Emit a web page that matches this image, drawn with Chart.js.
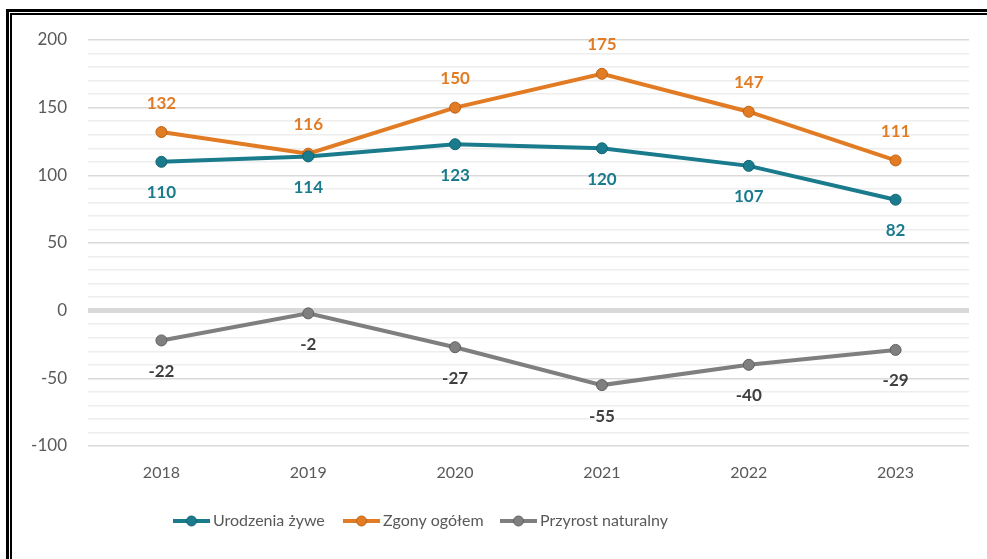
<!DOCTYPE html>
<html>
<head>
<meta charset="utf-8">
<script src="https://cdn.jsdelivr.net/npm/chart.js@4"></script>
<style>
  html, body { margin: 0; padding: 0; background: #fff; }
  #wrap { position: relative; width: 987px; height: 559px; overflow: hidden; }
  #chart { position: absolute; left: 0; top: 0; }
  .frame { position: absolute; background: #000; }
</style>
</head>
<body>
<div id="wrap">
  <canvas id="chart" width="987" height="559"></canvas>
  <!-- double frame on the left and top -->
  <div class="frame" style="left:6px; top:9px; width:3px; height:560px;"></div>
  <div class="frame" style="left:10px; top:13px; width:2px; height:560px;"></div>
  <div class="frame" style="left:6px; top:9px; width:990px; height:3px;"></div>
  <div class="frame" style="left:10px; top:13px; width:990px; height:2px;"></div>
</div>
<script>
// dane
const years = ['2018', '2019', '2020', '2021', '2022', '2023'];
const urodzenia = [110, 114, 123, 120, 107, 82];
const zgony = [132, 116, 150, 175, 147, 111];
const przyrost = [-22, -2, -27, -55, -40, -29];
const seriesNames = ['Urodzenia żywe', 'Zgony ogółem', 'Przyrost naturalny'];
const yTicks = [-100, -50, 0, 50, 100, 150, 200];

const colors = ['#1a7b8d', '#e27c24', '#7f7f7f'];
const borders = ['#136473', '#bf6214', '#606060'];
const labelColors = ['#1a7b8d', '#e27c24', '#3f3f3f'];
const labelOffsets = [31, -29, 31];

const FONT = 'Lato, "Open Sans", sans-serif';

// legenda rysowana recznie (pozycje jak w oryginale)
const legendX = [173, 343, 500];
const legendY = 521;

const dataLabels = {
    id: 'dataLabels',
    afterDatasetsDraw(chart) {
        const ctx = chart.ctx;
        ctx.save();
        ctx.font = 'bold 17px ' + FONT;
        ctx.textAlign = 'center';
        ctx.textBaseline = 'middle';
        chart.data.datasets.forEach((ds, i) => {
            const meta = chart.getDatasetMeta(i);
            ctx.fillStyle = labelColors[i];
            meta.data.forEach((pt, j) => {
                ctx.fillText(String(ds.data[j]), pt.x, pt.y + labelOffsets[i]);
            });
        });
        ctx.restore();
    }
};

const bottomLegend = {
    id: 'bottomLegend',
    afterDraw(chart) {
        const ctx = chart.ctx;
        ctx.save();
        chart.data.datasets.forEach((ds, i) => {
            const x = legendX[i];
            ctx.strokeStyle = colors[i];
            ctx.lineWidth = 4;
            ctx.beginPath();
            ctx.moveTo(x, legendY);
            ctx.lineTo(x + 37, legendY);
            ctx.stroke();
            ctx.beginPath();
            ctx.arc(x + 18.5, legendY, 5, 0, Math.PI * 2);
            ctx.fillStyle = colors[i];
            ctx.fill();
            ctx.lineWidth = 1;
            ctx.strokeStyle = borders[i];
            ctx.stroke();
            ctx.fillStyle = '#595959';
            ctx.font = '16px ' + FONT;
            ctx.textAlign = 'left';
            ctx.textBaseline = 'middle';
            ctx.fillText(ds.label, x + 40, legendY);
        });
        ctx.restore();
    }
};

function makeDataset(i, values) {
    return {
        label: seriesNames[i],
        data: values,
        borderColor: colors[i],
        backgroundColor: colors[i],
        pointBackgroundColor: colors[i],
        pointBorderColor: borders[i],
        pointBorderWidth: 1,
        pointRadius: 5.5,
        borderWidth: 4,
        tension: 0
    };
}

const ctx = document.getElementById('chart').getContext('2d');
const chart = new Chart(ctx, {
    type: 'line',
    data: {
        labels: years,
        datasets: [
            makeDataset(0, urodzenia),
            makeDataset(1, zgony),
            makeDataset(2, przyrost)
        ]
    },
    options: {
        responsive: false,
        animation: false,
        layout: { padding: { left: 0, right: 18, top: 40, bottom: 73 } },
        plugins: {
            tooltip: { enabled: false },
            legend: { display: false }
        },
        scales: {
            x: {
                offset: true,
                afterFit(scale) { scale.height = 40; },
                grid: { display: false, drawTicks: false },
                border: { display: false },
                ticks: { color: '#595959', font: { family: FONT, size: 16 }, padding: 17 }
            },
            y: {
                min: -100,
                max: 200,
                afterFit(scale) { scale.width = 88; },
                afterBuildTicks(scale) {
                    const t = [];
                    for (let v = -100; v <= 200; v += 10) t.push({ value: v });
                    scale.ticks = t;
                },
                border: { display: false },
                grid: {
                    drawTicks: false,
                    color(c) {
                        const v = c.tick.value;
                        if (v === 0) return '#d9d9d9';
                        if (v % 50 === 0) return '#d9d9d9';
                        return '#eeeeee';
                    },
                    lineWidth(c) {
                        return c.tick.value === 0 ? 5 : 1.5;
                    }
                },
                ticks: {
                    color: '#595959',
                    padding: 21,
                    autoSkip: false,
                    font: { family: FONT, size: 17 },
                    callback(value) {
                        return yTicks.includes(value) ? String(value) : '';
                    }
                }
            }
        }
    },
    plugins: [dataLabels, bottomLegend]
});
</script>
</body>
</html>
